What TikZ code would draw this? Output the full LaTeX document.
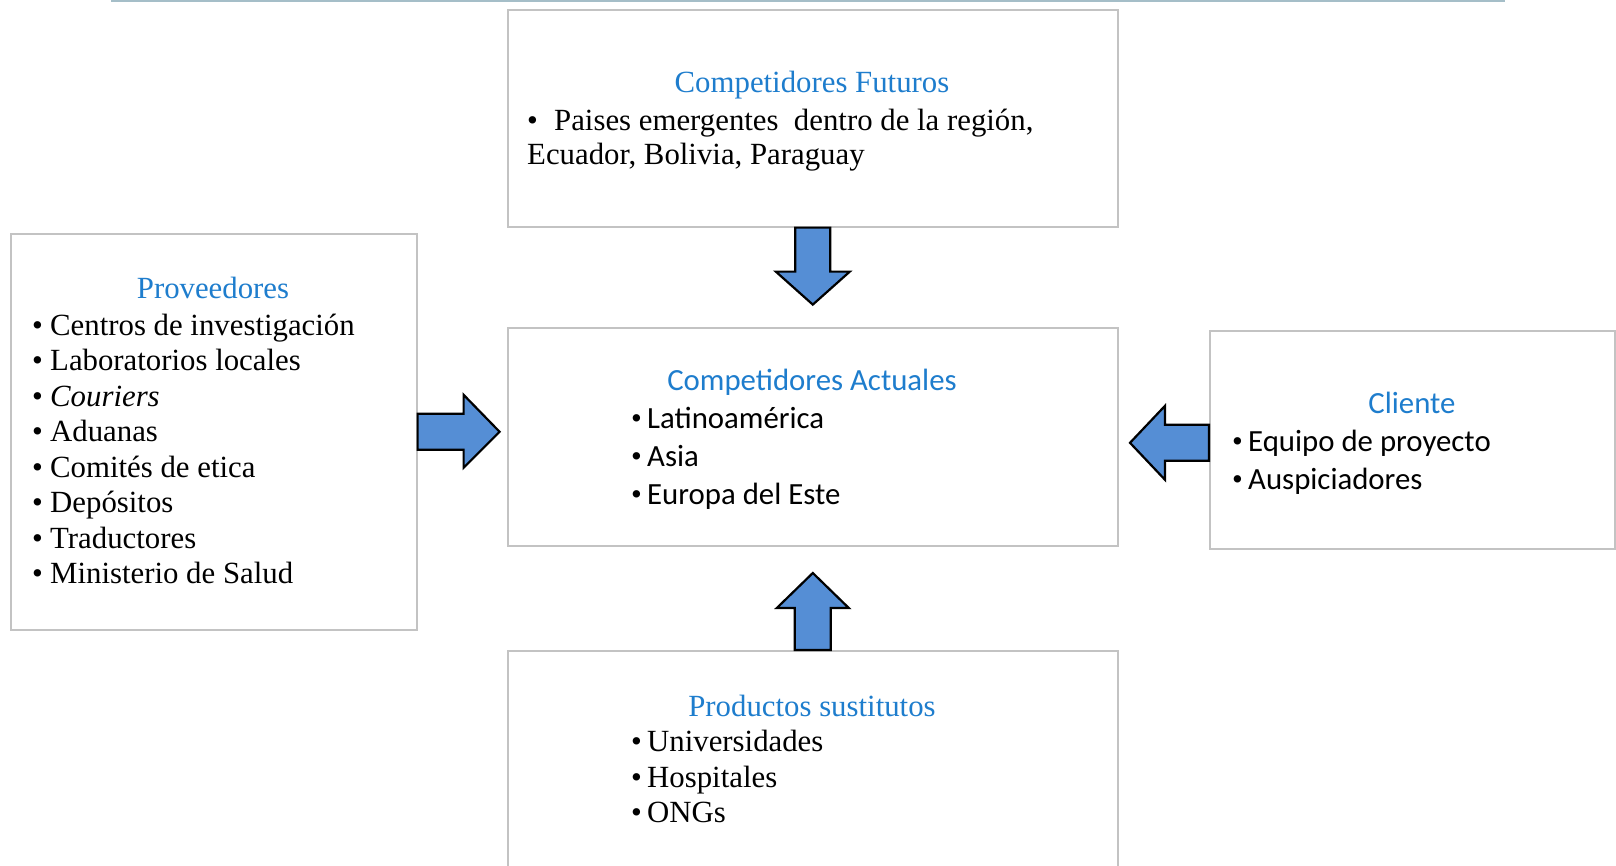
\documentclass[tikz,border=0pt]{standalone}
\usepackage{fontspec}
\setmainfont{Liberation Serif}
\newfontfamily\calib{Carlito}
\usetikzlibrary{calc}
\definecolor{ttl}{RGB}{30,125,205}
\definecolor{arrowfill}{RGB}{85,142,213}
\definecolor{boxline}{RGB}{195,195,195}
\definecolor{rulecol}{RGB}{165,190,200}
\newcommand\bulx[1]{\makebox[#1][l]{\rmfamily •}}
\begin{document}
\begin{tikzpicture}[x=1pt,y=-1pt,
  box/.style={draw=boxline,line width=1.6pt,fill=white,inner sep=0pt,anchor=north west},
  txt/.style={inner sep=0pt,anchor=base west,font=\fontsize{30.8}{35.5}\selectfont},
  stxt/.style={inner sep=0pt,anchor=base west,font=\calib\fontsize{30.8}{37}\selectfont},
  ttlS/.style={inner sep=0pt,anchor=base,text=ttl,font=\fontsize{30.8}{35.5}\selectfont},
  ttlC/.style={inner sep=0pt,anchor=base,text=ttl,font=\calib\fontsize{30.8}{37}\selectfont},
  blockarrow/.style={draw=black,line width=2.2pt,fill=arrowfill,line join=miter}]
\useasboundingbox (0,0) rectangle (1616,865);
\fill[white] (0,0) rectangle (1616,865);
% top rule
\coordinate (r1) at (111,1.2);
\coordinate (r2) at (1505,1.2);
\draw[draw=rulecol,line width=2pt] (r1) -- (r2);
% boxes
\node[box,minimum width=610pt,minimum height=217pt] (fut) at (507,9) {};
\node[box,minimum width=406pt,minimum height=396pt] (prov) at (10,233) {};
\node[box,minimum width=610pt,minimum height=218pt] (act) at (507,327) {};
\node[box,minimum width=405pt,minimum height=218pt] (cli) at (1209,330) {};
\node[box,minimum width=610pt,minimum height=230pt] (sus) at (507,650) {};
% Competidores Futuros
\node[ttlS] (futT) at (812,92) {Competidores Futuros};
\node[txt] (fut1) at (527,130) {\bulx{27pt}Paises emergentes\ \ dentro de la región,};
\node[txt] (fut2) at (527,164.5) {Ecuador, Bolivia, Paraguay};
% Proveedores
\node[ttlS] (provT) at (213,298) {Proveedores};
\node[txt] (p1) at (32,335) {\bulx{18pt}Centros de investigación};
\node[txt] (p2) at (32,370.5) {\bulx{18pt}Laboratorios locales};
\node[txt] (p3) at (32,406) {\bulx{18pt}\textit{Couriers}};
\node[txt] (p4) at (32,441.5) {\bulx{18pt}Aduanas};
\node[txt] (p5) at (32,477) {\bulx{18pt}Comités de etica};
\node[txt] (p6) at (32,512.5) {\bulx{18pt}Depósitos};
\node[txt] (p7) at (32,548) {\bulx{18pt}Traductores};
\node[txt] (p8) at (32,583.5) {\bulx{18pt}Ministerio de Salud};
% Competidores Actuales
\node[ttlC] (actT) at (812,390) {Competidores Actuales};
\node[stxt] (a1) at (631,428) {\bulx{16pt}Latinoamérica};
\node[stxt] (a2) at (631,466) {\bulx{16pt}Asia};
\node[stxt] (a3) at (631,504) {\bulx{16pt}Europa del Este};
% Cliente
\node[ttlC] (cliT) at (1412,413) {Cliente};
\node[stxt] (c1) at (1232,451) {\bulx{16pt}Equipo de proyecto};
\node[stxt] (c2) at (1232,489) {\bulx{16pt}Auspiciadores};
% Productos sustitutos
\node[ttlS] (susT) at (812,716) {Productos sustitutos};
\node[txt] (s1) at (631,751) {\bulx{16pt}Universidades};
\node[txt] (s2) at (631,787) {\bulx{16pt}Hospitales};
\node[txt] (s3) at (631,822) {\bulx{16pt}ONGs};
% block arrows
\draw[blockarrow] ($(fut.south)+(-17.5,0)$) -- ($(fut.south)+(-17.5,44)$) -- ($(fut.south)+(-37,44)$)
  -- ($(fut.south)+(0,77)$) -- ($(fut.south)+(37,44)$) -- ($(fut.south)+(17.5,44)$) -- ($(fut.south)+(17.5,0)$) -- cycle;
\draw[blockarrow] ($(sus.north)+(-18,0)$) -- ($(sus.north)+(-18,-42)$) -- ($(sus.north)+(-36,-42)$)
  -- ($(sus.north)+(0,-77)$) -- ($(sus.north)+(36,-42)$) -- ($(sus.north)+(18,-42)$) -- ($(sus.north)+(18,0)$) -- cycle;
\draw[blockarrow] ($(prov.east)+(0,-18)$) -- ($(prov.east)+(46,-18)$) -- ($(prov.east)+(46,-37)$)
  -- ($(prov.east)+(82,0)$) -- ($(prov.east)+(46,36)$) -- ($(prov.east)+(46,18)$) -- ($(prov.east)+(0,18)$) -- cycle;
\draw[blockarrow] ($(cli.west)+(0,-15)$) -- ($(cli.west)+(-44,-15)$) -- ($(cli.west)+(-44,-34)$)
  -- ($(cli.west)+(-79,3)$) -- ($(cli.west)+(-44,40)$) -- ($(cli.west)+(-44,21)$) -- ($(cli.west)+(0,21)$) -- cycle;
\end{tikzpicture}
\end{document}
